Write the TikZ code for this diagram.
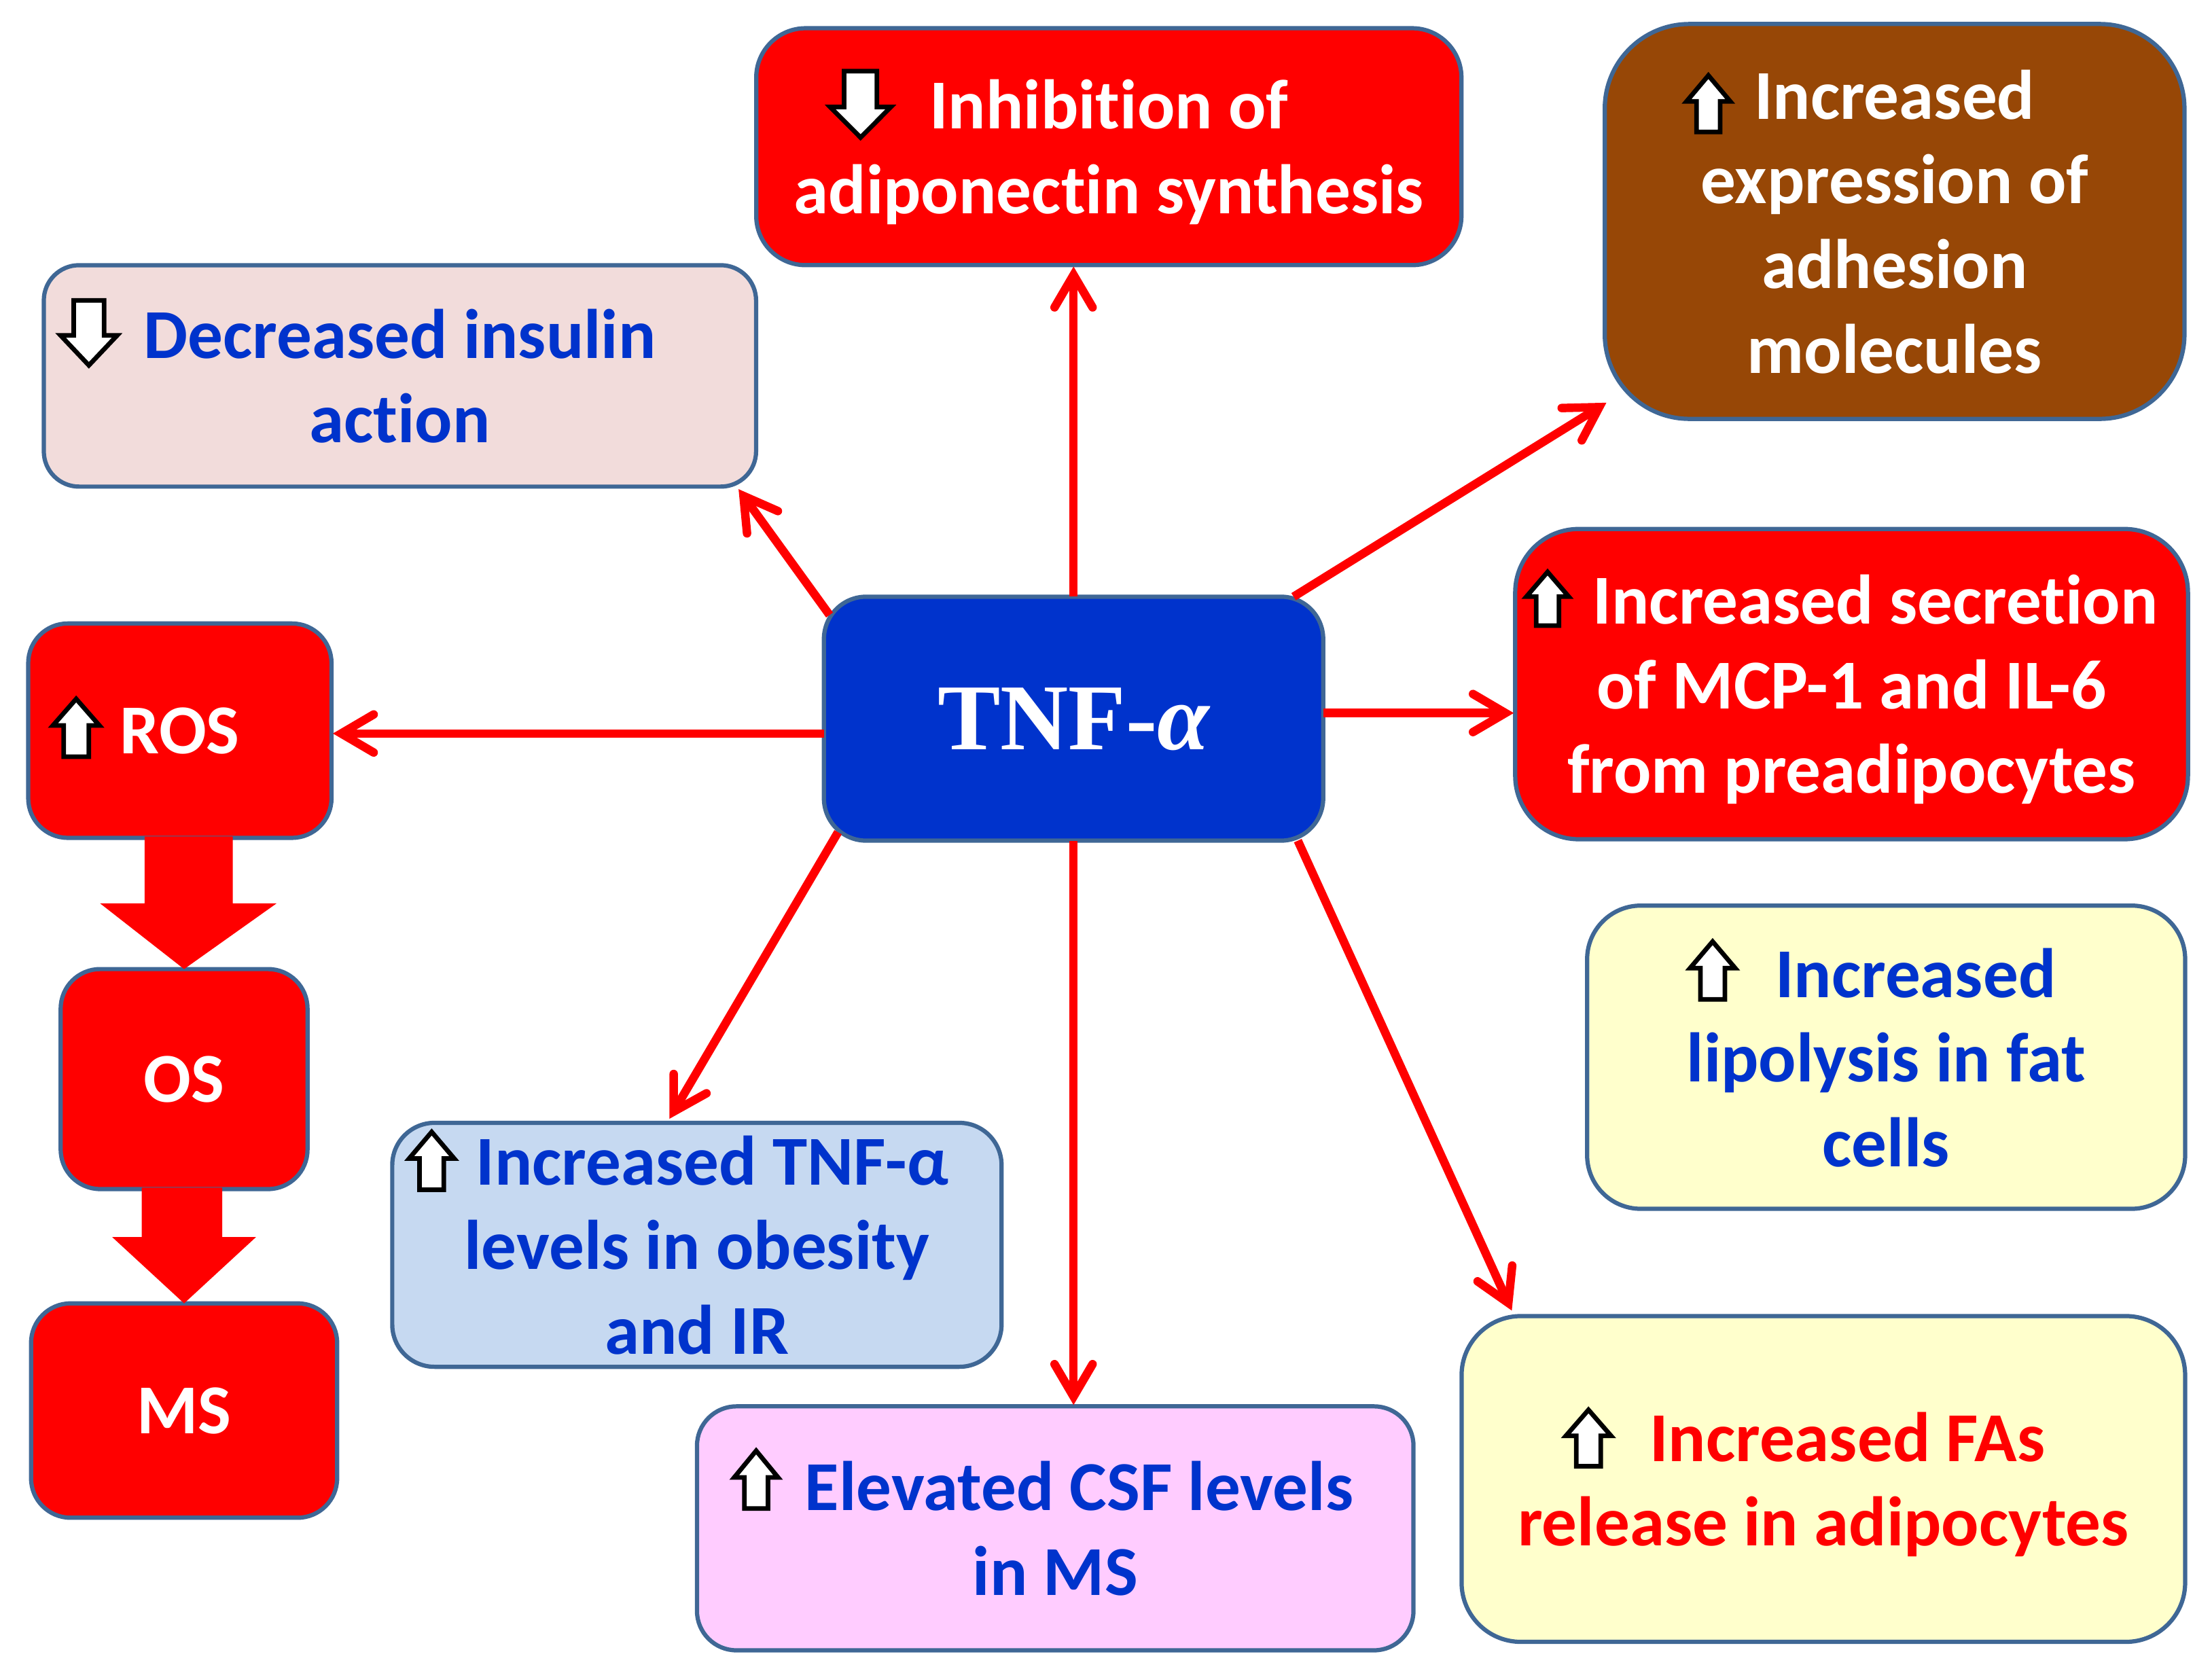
\documentclass[tikz,border=0pt]{standalone}
\usepackage{fontspec}
\setmainfont{Carlito}[Ligatures=NoCommon]
\newfontfamily\tnffont{Liberation Serif}
\usetikzlibrary{arrows.meta,calc}
\definecolor{edgeblue}{HTML}{3F6795}
\definecolor{royal}{HTML}{0033CC}
\definecolor{brownbox}{HTML}{974706}
\definecolor{pinkbox}{HTML}{F2DCDB}
\definecolor{bluebox}{HTML}{C6D9F1}
\definecolor{lilacbox}{HTML}{FFCCFF}
\definecolor{creambox}{HTML}{FFFFCC}
\tikzset{
  box/.style={draw=edgeblue,line width=0.06cm,inner sep=0pt,outer sep=0pt,align=center,text depth=-1.1pt,
    font=\fontsize{28.3}{34.14}\selectfont\bfseries},
  link/.style={draw=red,line width=0.12cm,-{Straight Barb[length=0.46cm,width=0.54cm,line cap=round]},shorten >=0.02cm},
  icon/.style={draw=black,fill=white,line width=0.065cm,miter limit=10},
  fat/.style={fill=red,draw=none}
}
\newcommand\bicon[5]{\draw[icon] (#1,#2) -- ({#1+#3/2},{#2+#5*0.46*#4}) -- ({#1+#3*0.27},{#2+#5*0.46*#4}) -- ({#1+#3*0.27},{#2+#5*#4}) -- ({#1-#3*0.27},{#2+#5*#4}) -- ({#1-#3*0.27},{#2+#5*0.46*#4}) -- ({#1-#3/2},{#2+#5*0.46*#4}) -- cycle;}
\begin{document}
\begin{tikzpicture}[x=0.02cm,y=-0.02cm]
\useasboundingbox (0,0) rectangle (1568,1183.2);
% boxes
\node[box,fill=red,text=white,minimum width=10cm,minimum height=3.36cm,rounded corners=0.7cm] (adipo) at (786,104) {Inhibition of\\adiponectin synthesis};
\node[box,fill=brownbox,text=white,minimum width=8.22cm,minimum height=5.6cm,rounded corners=1.2cm] (brown) at (1343,157) {Increased\\expression of\\adhesion\\molecules};
\node[box,fill=pinkbox,text=royal,minimum width=10.1cm,minimum height=3.14cm,rounded corners=0.5cm] (insulin) at (283.5,266.5) {Decreased insulin\\action};
\node[box,fill=royal,text=white,minimum width=7.08cm,minimum height=3.46cm,rounded corners=0.6cm,text depth=0pt,font=\fontsize{38}{44}\selectfont\bfseries\tnffont] (tnf) at (761,509.5) {TNF-{\itshape α}};
\node[box,fill=red,text=white,minimum width=9.54cm,minimum height=4.4cm,rounded corners=0.9cm] (mcp) at (1312.5,485) {\hspace*{0.68cm}Increased secretion\\of MCP-1 and IL-6\\from preadipocytes};
\node[box,fill=red,text=white,minimum width=4.3cm,minimum height=3.04cm,rounded corners=0.56cm] (ros) at (127.5,518) {ROS};
\node[box,fill=red,text=white,minimum width=3.5cm,minimum height=3.12cm,rounded corners=0.56cm] (os) at (130.5,765) {OS};
\node[box,fill=red,text=white,minimum width=4.34cm,minimum height=3.04cm,rounded corners=0.56cm] (ms) at (130.5,1000) {MS};
\node[box,fill=bluebox,text=royal,minimum width=8.64cm,minimum height=3.46cm,rounded corners=0.6cm] (obese) at (494,882.5) {\hspace*{0.44cm}Increased TNF-α\\levels in obesity\\and IR};
\node[box,fill=lilacbox,text=royal,minimum width=10.16cm,minimum height=3.46cm,rounded corners=0.56cm] (csf) at (748,1083.5) {\hspace*{0.68cm}Elevated CSF levels\\in MS};
\node[box,fill=creambox,text=royal,minimum width=8.48cm,minimum height=4.3cm,rounded corners=0.76cm] (lipo) at (1337,749.5) {\hspace*{0.84cm}Increased\\lipolysis in fat\\cells};
\node[box,fill=creambox,text=red,minimum width=10.26cm,minimum height=4.62cm,rounded corners=0.84cm] (fa) at (1292.5,1048.5) {\hspace*{0.68cm}Increased FAs\\release in adipocytes};
% connectors
\coordinate (tE) at ($(tnf.east)+(0,-4)$);
\coordinate (tW) at ($(tnf.west)+(0,10.5)$);
\draw[link] (tnf.north) -- (tnf.north |- adipo.south);
\draw[link] ($(tnf.north west)+(4,13)$) -- ($(insulin.south east)+(-13,1)$);
\draw[link] ($(tnf.north east)+(-21,0)$) -- ($(brown.south west)+(2,-12)$);
\draw[link] (tE) -- (tE -| mcp.west);
\draw[link] (tW) -- (tW -| ros.east);
\draw[link] ($(tnf.south west)+(10,-6)$) -- ($(obese.north)+(-20,-2)$);
\draw[link] (tnf.south) -- (tnf.south |- csf.north);
\draw[link] ($(tnf.south east)+(-18,0)$) -- ($(fa.north west)+(36,-3)$);
% fat arrows
\fill[fat] ($(ros.south)+(-25,-1)$) -- ($(ros.south)+(37.5,-1)$) -- ($(ros.south)+(37.5,46.5)$) -- ($(ros.south)+(68.5,46.5)$) -- (os.north) -- ($(ros.south)+(-56.5,46.5)$) -- ($(ros.south)+(-25,46.5)$) -- cycle;
\fill[fat] ($(os.south)+(-30,-1)$) -- ($(os.south)+(27,-1)$) -- ($(os.south)+(27,34)$) -- ($(os.south)+(51,34)$) -- (ms.north) -- ($(os.south)+(-51,34)$) -- ($(os.south)+(-30,34)$) -- cycle;
% block-arrow icons
\bicon{610}{97.5}{43}{47}{-1}
\bicon{63}{259}{40}{46}{-1}
\bicon{1211}{53.5}{31}{40}{1}
\bicon{1097}{405.5}{30}{38}{1}
\bicon{54}{495.5}{33}{41}{1}
\bicon{306}{802.5}{32}{41}{1}
\bicon{536}{1028.5}{31}{41}{1}
\bicon{1214}{667.5}{32}{41}{1}
\bicon{1126}{999.5}{32}{40}{1}
\end{tikzpicture}
\end{document}
